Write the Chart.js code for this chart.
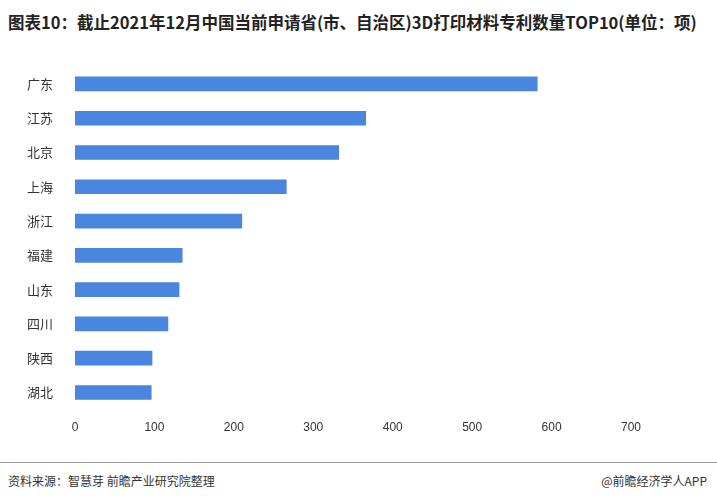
<!DOCTYPE html>
<html><head><meta charset="utf-8">
<script src="https://cdn.jsdelivr.net/npm/chart.js@4"></script>
<style>
body{margin:0;width:717px;height:501px;background:#fff;font-family:"Noto Sans CJK SC",sans-serif;position:relative;overflow:hidden}
#t{position:absolute;left:8px;top:10px;font-size:16.5px;font-weight:bold;color:#222;white-space:nowrap}
#line{position:absolute;left:0;top:462px;width:717px;border-top:1px solid #999}
#s{position:absolute;left:8px;top:472px;font-size:12px;color:#333}
#b{position:absolute;right:10px;top:472px;font-size:12px;color:#333}
#c{position:absolute;left:0;top:45px;width:717px;height:393px}
</style></head><body>
<div id="t">图表10：截止2021年12月中国当前申请省(市、自治区)3D打印材料专利数量TOP10(单位：项)</div>
<div id="c"><canvas id="cv"></canvas></div>
<div id="line"></div>
<div id="s">资料来源：智慧芽 前瞻产业研究院整理</div>
<div id="b">@前瞻经济学人APP</div>
<script>
const categories=["广东","江苏","北京","上海","浙江","福建","山东","四川","陕西","湖北"];
const values=[582,366,332,266,210,135,131,117,97,96];
new Chart(document.getElementById('cv'),{type:'bar',
data:{labels:categories,datasets:[{data:values,backgroundColor:'#4a86e0',barThickness:14}]},
options:{indexAxis:'y',responsive:true,maintainAspectRatio:false,animation:false,
layout:{padding:{left:0,right:86,top:0,bottom:0}},
plugins:{legend:{display:false},tooltip:{enabled:false}},
scales:{x:{min:0,max:700,ticks:{stepSize:100,color:'#333',font:{size:12}},grid:{display:false},border:{display:false}},
y:{afterFit:s=>{s.width=75;},ticks:{color:'#333',padding:14,font:{size:13,family:"Noto Sans CJK SC"}},grid:{display:false},border:{display:false}}}}});
</script></body></html>
